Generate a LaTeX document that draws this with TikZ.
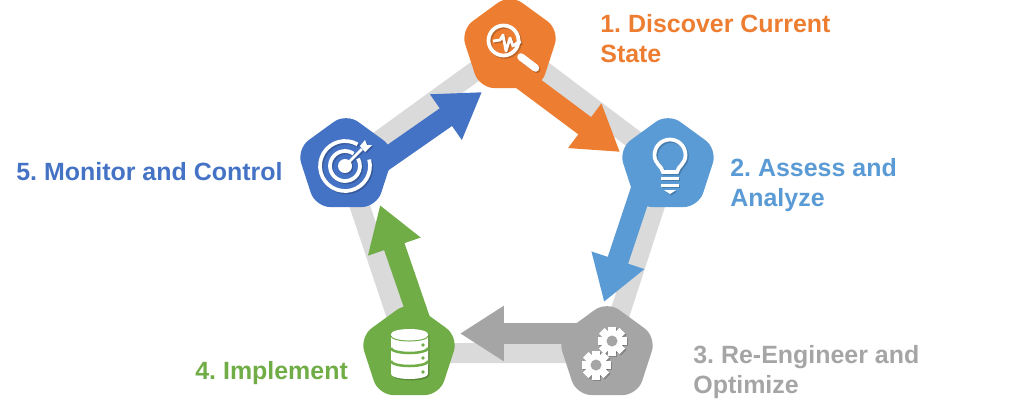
\documentclass[tikz,border=0pt]{standalone}
\usepackage{fontspec}
\setmainfont{Liberation Sans}
\usetikzlibrary{arrows.meta,shapes.geometric,backgrounds}

\definecolor{discovercol}{HTML}{ED7D31}
\definecolor{assesscol}{HTML}{5B9BD5}
\definecolor{reengcol}{HTML}{A5A5A5}
\definecolor{implcol}{HTML}{70AD47}
\definecolor{monitorcol}{HTML}{4472C4}
\definecolor{ringcol}{HTML}{DADADA}

\tikzset{
  phase/.style={regular polygon,regular polygon sides=5,minimum size=2.08cm,
    inner sep=0pt,outer sep=0pt,rounded corners=0.3cm,fill=#1},
  flow/.style={line width=0.43cm,#1,-{Triangle[width=1.05cm,length=0.88cm]}},
  iconline/.style={draw=\iconcol,line width=0.075cm},
  steplabel/.style={anchor=base west,inner sep=0pt,align=left,font=\bfseries\fontsize{14.2}{17}\selectfont,text=#1},
}

\begin{document}
\frenchspacing
\begin{tikzpicture}[x=0.02cm,y=-0.02cm]
    \useasboundingbox (0,0) rectangle (1024,414);

    % Pentagoni
    \node[phase=discovercol] (discover) at (510,46) {};
    \node[phase=assesscol] (assess) at (668,165) {};
    \node[phase=reengcol] (reeng) at (607,353) {};
    \node[phase=implcol] (impl) at (409,353) {};
    \node[phase=monitorcol] (monitor) at (346,165) {};

    % Estremi delle frecce
    \coordinate (discoverfrom) at (510,70);
    \coordinate (discovertip) at (620,152);
    \coordinate (assessfrom) at (648,170);
    \coordinate (assesstip) at (604,302);
    \coordinate (reengfrom) at (590,333.5);
    \coordinate (reengtip) at (460,333.5);
    \coordinate (implfrom) at (423,330);
    \coordinate (impltip) at (380,205);
    \coordinate (monitorfrom) at (360,177);
    \coordinate (monitortip) at (482,92);

    % Anello e frecce
    \begin{scope}[on background layer]
        \draw[ringcol,line width=0.4cm] (discover.center) -- (assess.center) -- (reeng.center)
            -- (impl.center) -- (monitor.center) -- cycle;
        \draw[flow=discovercol] (discoverfrom) -- (discovertip);
        \draw[flow=assesscol] (assessfrom) -- (assesstip);
        \draw[flow=reengcol] (reengfrom) -- (reengtip);
        \draw[flow=implcol] (implfrom) -- (impltip);
        \draw[flow=monitorcol] (monitorfrom) -- (monitortip);
    \end{scope}

    % Icone: prima l'ombra, poi il bianco
    \foreach \iconcol/\off/\op in {black/1.4/0.2,white/0/1} {
    \begin{scope}[shift={(\off,\off)},opacity=\op]

        % Lente
        \draw[iconline] (503.5,40.5) circle (15);
        \draw[\iconcol,line width=0.15cm,line cap=round] (521,57) -- (535.5,68);
        \draw[\iconcol,line width=0.055cm,line join=round] (493,41) -- (500,40) -- (503,35) -- (506,51)
            -- (510,38) -- (513,46) -- (517,43) -- (521,42);

        % Lampadina
        \draw[iconline] (663,172) .. controls (662,166) and (654.5,164) .. (654.5,155)
            arc[start angle=180,end angle=0,radius=0.31cm]
            .. controls (685.5,164) and (678,166) .. (677,172) -- cycle;
        \foreach \y in {178,185} {
            \draw[\iconcol,line width=0.06cm] (661,\y) -- (679,\y);
        }
        \fill[\iconcol] (664,190) -- (676,190) -- (670,194) -- cycle;

        % Ingranaggi
        \foreach \gx/\gy in {612/341,596/365} {
            \fill[\iconcol] (\gx,\gy) circle (11);
            \foreach \a in {0,45,...,315} {
                \fill[\iconcol,shift={(\gx,\gy)},rotate=\a] (-4,-14.5) rectangle (4,0);
            }
            \fill[reengcol] (\gx,\gy) circle (5.5);
        }

        % Database
        \fill[\iconcol] (391,334) -- (391,374) arc[start angle=180,end angle=360,x radius=0.37cm,y radius=0.1cm]
            -- (428,334) arc[start angle=0,end angle=180,x radius=0.37cm,y radius=0.1cm] -- cycle;
        \foreach \y/\w in {336/0.02cm,348/0.05cm,361/0.05cm} {
            \draw[implcol,line width=\w] (391,\y) arc[start angle=180,end angle=360,x radius=0.37cm,y radius=0.1cm];
        }
        \foreach \y in {345,358,372} {
            \fill[implcol] (423,\y) circle (1.8);
        }

        % Bersaglio
        \draw[iconline] (345,166) ++(60:0.5cm) arc[start angle=60,end angle=375,radius=0.5cm];
        \draw[iconline] (345,166) ++(55:0.3cm) arc[start angle=55,end angle=390,radius=0.3cm];
        \fill[\iconcol] (345,166) circle (7);
        \draw[\iconcol,line width=0.05cm] (345,166) -- (362,149);
        \fill[\iconcol] (360,146) -- (365,140) -- (367,145) -- (372,145) -- (365,152) -- cycle;

    \end{scope}
    }

    % Etichette
    \node[steplabel=discovercol] (discoverlabel) at (600,62) {1. Discover Current\\State};
    \node[steplabel=assesscol] (assesslabel) at (730,206) {2. Assess and\\Analyze};
    \node[steplabel=reengcol] (reenglabel) at (693,393) {3. Re-Engineer and\\Optimize};
    \node[steplabel=implcol] (impllabel) at (195,379) {4. Implement};
    \node[steplabel=monitorcol] (monitorlabel) at (16,180) {5. Monitor and Control};

\end{tikzpicture}
\end{document}
